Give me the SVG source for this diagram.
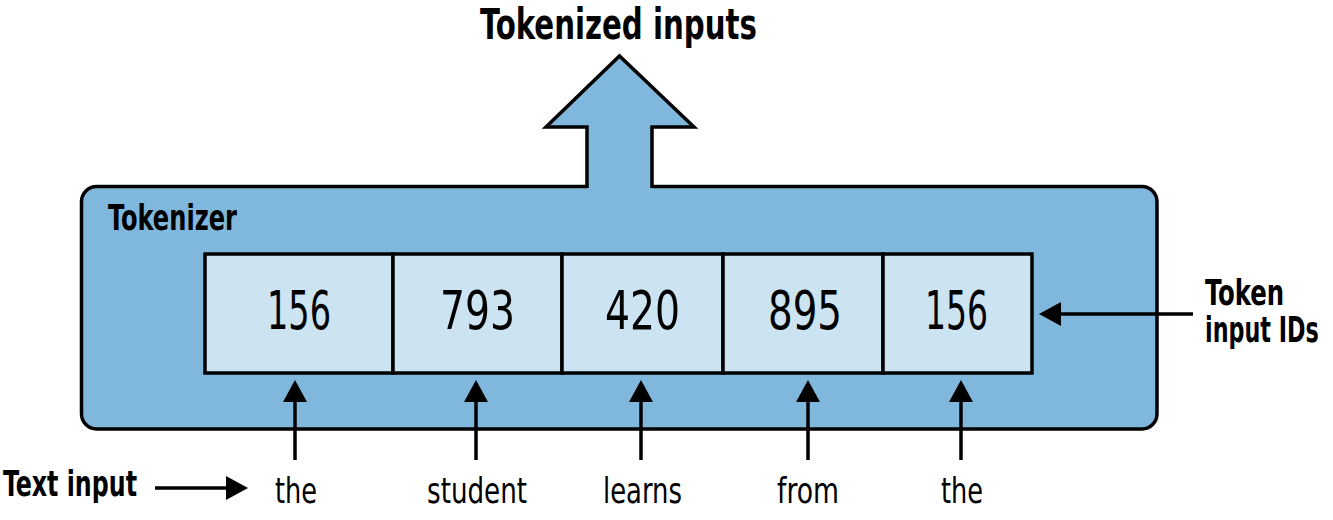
<svg xmlns="http://www.w3.org/2000/svg" width="1333" height="520" viewBox="0 0 1333 520">
  <style>
    .t { font-family: "Liberation Sans Narrow", "DejaVu Sans Condensed", "Liberation Sans", sans-serif; fill: #000; }
    .b { font-weight: bold; }
    .ln { stroke: #000; stroke-width: 3.5; fill: none; }
    .cell { fill: #cce3f1; stroke: #000; stroke-width: 3.5; }
    .num { font-size: 53px; text-anchor: middle; }
    .word { font-size: 36px; text-anchor: middle; }
  </style>
  <defs>
    <marker id="ah" viewBox="0 0 22 24" refX="0" refY="12" markerWidth="22" markerHeight="24" markerUnits="userSpaceOnUse" orient="auto">
      <path d="M0,0 L22,12 L0,24 Z" fill="#000"/>
    </marker>
  </defs>

  <g id="tokenizer">
    <rect x="81.5" y="186.5" width="1075.5" height="242.5" rx="15" ry="15" fill="#80b8dd" stroke="#000" stroke-width="3.5"/>
    <text class="t b" x="108" y="230" font-size="36" textLength="129" lengthAdjust="spacingAndGlyphs">Tokenizer</text>
  </g>

  <g id="output-arrow">
    <polygon points="587,190 587,127 546,127 619.5,56 694,127 652,127 652,190" fill="#80b8dd"/>
    <polyline points="587,188 587,127 546,127 619.5,56 694,127 652,127 652,188" fill="none" stroke="#000" stroke-width="3.5" stroke-linejoin="miter"/>
  </g>

  <g id="title">
    <text class="t b" x="480" y="39" font-size="43" textLength="277" lengthAdjust="spacingAndGlyphs">Tokenized inputs</text>
  </g>

  <g id="cells">
    <g id="cell-1"><rect class="cell" x="205" y="254" width="188" height="119"/><text class="t num" x="299" y="329" textLength="64" lengthAdjust="spacingAndGlyphs">156</text></g>
    <g id="cell-2"><rect class="cell" x="393" y="254" width="169" height="119"/><text class="t num" x="477.5" y="329" textLength="75" lengthAdjust="spacingAndGlyphs">793</text></g>
    <g id="cell-3"><rect class="cell" x="562" y="254" width="161" height="119"/><text class="t num" x="642.5" y="329" textLength="75" lengthAdjust="spacingAndGlyphs">420</text></g>
    <g id="cell-4"><rect class="cell" x="723" y="254" width="160" height="119"/><text class="t num" x="805" y="329" textLength="74" lengthAdjust="spacingAndGlyphs">895</text></g>
    <g id="cell-5"><rect class="cell" x="883" y="254" width="149" height="119"/><text class="t num" x="956.5" y="329" textLength="63" lengthAdjust="spacingAndGlyphs">156</text></g>
  </g>

  <g id="words">
    <text id="w1" class="t word" x="296" y="503" textLength="42" lengthAdjust="spacingAndGlyphs">the</text>
    <text id="w2" class="t word" x="477" y="503" textLength="100" lengthAdjust="spacingAndGlyphs">student</text>
    <text id="w3" class="t word" x="642.5" y="503" textLength="79" lengthAdjust="spacingAndGlyphs">learns</text>
    <text id="w4" class="t word" x="808" y="503" textLength="62" lengthAdjust="spacingAndGlyphs">from</text>
    <text id="w5" class="t word" x="962" y="503" textLength="42" lengthAdjust="spacingAndGlyphs">the</text>
  </g>

  <g id="labels">
    <text id="text-input" class="t b" x="3" y="496" font-size="35" textLength="134" lengthAdjust="spacingAndGlyphs">Text input</text>
    <g transform="translate(1205 0) scale(0.72 1)">
      <text id="token-ids" class="t b" font-size="35">
        <tspan x="0" y="305" textLength="110" lengthAdjust="spacingAndGlyphs">Token</tspan>
        <tspan x="0" y="342" textLength="158" lengthAdjust="spacingAndGlyphs">input IDs</tspan>
      </text>
    </g>
  </g>

  <g id="connectors">
    <line class="ln" x1="295" y1="460" x2="295" y2="402" marker-end="url(#ah)"/>
    <line class="ln" x1="476" y1="460" x2="476" y2="402" marker-end="url(#ah)"/>
    <line class="ln" x1="641" y1="460" x2="641" y2="402" marker-end="url(#ah)"/>
    <line class="ln" x1="808" y1="460" x2="808" y2="402" marker-end="url(#ah)"/>
    <line class="ln" x1="961" y1="460" x2="961" y2="402" marker-end="url(#ah)"/>
    <line class="ln" x1="155" y1="488" x2="226" y2="488" marker-end="url(#ah)"/>
    <line class="ln" x1="1193" y1="314" x2="1061" y2="314" marker-end="url(#ah)"/>
  </g>
</svg>
